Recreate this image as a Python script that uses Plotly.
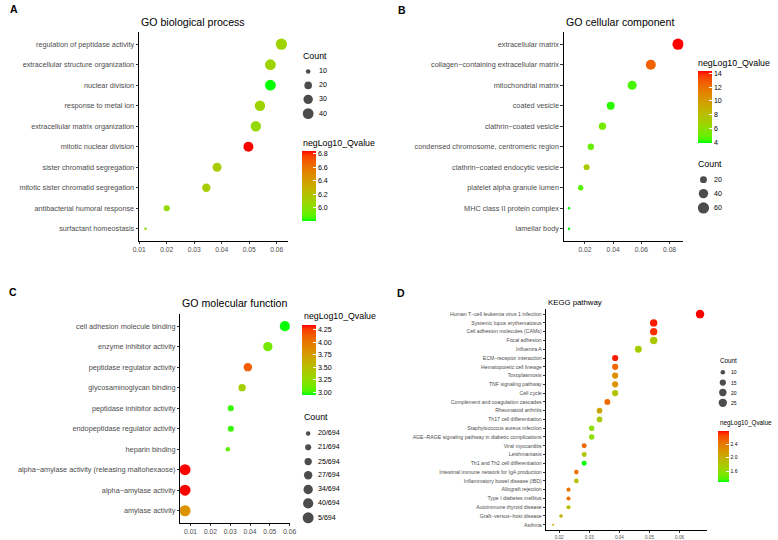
import numpy as np
import plotly.graph_objects as go

W, H = 778, 540
FONT = "Liberation Sans"

# ---------------- data ----------------
# A  GO biological process (top to bottom)
bp_terms = ["regulation of peptidase activity", "extracellular structure organization",
            "nuclear division", "response to metal ion", "extracellular matrix organization",
            "mitotic nuclear division", "sister chromatid segregation",
            "mitotic sister chromatid segregation", "antibacterial humoral response",
            "surfactant homeostasis"]
bp_ratio = [0.0617, 0.0577, 0.0577, 0.0539, 0.0524, 0.0497, 0.0383, 0.0344, 0.0200, 0.0123]
bp_count = [43, 40, 40, 37, 36, 34, 27, 24, 14, 8]
bp_q = [6.08, 6.08, 5.80, 6.08, 6.05, 6.84, 6.12, 6.12, 6.05, 6.05]

# B  GO cellular component
cc_terms = ["extracellular matrix", "collagen\u2212containing extracellular matrix",
            "mitochondrial matrix", "coated vesicle", "clathrin\u2212coated vesicle",
            "condensed chromosome, centromeric region", "clathrin\u2212coated endocytic vesicle",
            "platelet alpha granule lumen", "MHC class II protein complex", "lamellar body"]
cc_ratio = [0.0860, 0.0667, 0.0535, 0.0383, 0.0324, 0.0242, 0.0212, 0.0170, 0.0087, 0.0087]
cc_count = [60, 46, 37, 27, 22, 17, 15, 12, 6, 6]
cc_q = [14.4, 12.6, 4.4, 4.2, 5.3, 5.0, 7.2, 4.6, 3.9, 3.9]

# C  GO molecular function (Count is a text column -> ordinal sizes)
mf_terms = ["cell adhesion molecule binding", "enzyme inhibitor activity",
            "peptidase regulator activity", "glycosaminoglycan binding",
            "peptidase inhibitor activity", "endopeptidase regulator activity",
            "heparin binding", "alpha\u2212amylase activity (releasing maltohexaose)",
            "alpha\u2212amylase activity", "amylase activity"]
mf_ratio = [0.0576, 0.0490, 0.0389, 0.0360, 0.0303, 0.0303, 0.0288, 0.0072, 0.0072, 0.0072]
mf_count = ["40/694", "34/694", "27/694", "25/694", "21/694", "21/694", "20/694",
            "5/694", "5/694", "5/694"]
mf_q = [2.93, 3.12, 4.12, 3.35, 2.98, 2.98, 3.05, 4.34, 4.34, 3.80]

# D  KEGG pathway
kegg_terms = ["Human T\u2212cell leukemia virus 1 infection", "Systemic lupus erythematosus",
              "Cell adhesion molecules (CAMs)", "Focal adhesion", "Influenza A",
              "ECM\u2212receptor interaction", "Hematopoietic cell lineage", "Toxoplasmosis",
              "TNF signaling pathway", "Cell cycle", "Complement and coagulation cascades",
              "Rheumatoid arthritis", "Th17 cell differentiation",
              "Staphylococcus aureus infection",
              "AGE\u2212RAGE signaling pathway in diabetic complications", "Viral myocarditis",
              "Leishmaniasis", "Th1 and Th2 cell differentiation",
              "Intestinal immune network for IgA production",
              "Inflammatory bowel disease (IBD)", "Allograft rejection",
              "Type I diabetes mellitus", "Autoimmune thyroid disease",
              "Graft\u2212versus\u2212host disease", "Asthma"]
kegg_ratio = [0.0668, 0.0514, 0.0514, 0.0514, 0.0463, 0.0386, 0.0386, 0.0386, 0.0386, 0.0386,
              0.0360, 0.0334, 0.0334, 0.0308, 0.0308, 0.0283, 0.0283, 0.0283, 0.0257, 0.0257,
              0.0231, 0.0231, 0.0231, 0.0206, 0.0180]
kegg_count = [26, 20, 20, 20, 18, 15, 15, 15, 15, 15, 14, 13, 13, 12, 12, 11, 11, 11, 10, 10,
              9, 9, 9, 8, 7]
kegg_q = [2.79, 2.75, 2.72, 1.80, 1.75, 2.75, 2.50, 2.25, 2.22, 1.85, 2.50, 2.10, 1.80, 1.60,
          1.60, 2.50, 1.85, 1.30, 2.45, 1.85, 2.45, 2.45, 1.90, 2.00, 2.05]


# ---------------- green -> red gradient interpolated in Lab (like ggplot) ----------------
M = np.array([[0.4124564, 0.3575761, 0.1804375],
              [0.2126729, 0.7151522, 0.0721750],
              [0.0193339, 0.1191920, 0.9503041]])
WHITE = np.array([0.95047, 1.0, 1.08883])


def to_lab(rgb):
    c = np.array(rgb) / 255
    lin = np.where(c <= 0.04045, c / 12.92, ((c + 0.055) / 1.055) ** 2.4)
    t = (M @ lin) / WHITE
    f = np.where(t > (6 / 29) ** 3, np.cbrt(t), t / (3 * (6 / 29) ** 2) + 4 / 29)
    return np.array([116 * f[1] - 16, 500 * (f[0] - f[1]), 200 * (f[1] - f[2])])


def from_lab(lab):
    fy = (lab[0] + 16) / 116
    f = np.array([fy + lab[1] / 500, fy, fy - lab[2] / 200])
    t = np.where(f > 6 / 29, f ** 3, 3 * (6 / 29) ** 2 * (f - 4 / 29))
    lin = np.clip(np.linalg.solve(M, t * WHITE), 0, 1)
    c = np.where(lin <= 0.0031308, 12.92 * lin, 1.055 * lin ** (1 / 2.4) - 0.055)
    r, g, b = (int(round(v * 255)) for v in np.clip(c, 0, 1))
    return f"rgb({r},{g},{b})"


lo, hi = to_lab((0, 255, 0)), to_lab((255, 0, 0))
gradient = [[s, from_lab(lo + (hi - lo) * s)] for s in np.linspace(0, 1, 21)]


def px(x):
    return x / W


def py(y):
    return 1 - y / H


def size_of(values, ref, dmin, dmax):
    # ggplot area scale: diameter grows with sqrt of rescaled value
    r = np.array(ref, dtype=float)
    v = np.array(values, dtype=float)
    return list(dmin + (dmax - dmin) * np.sqrt((v - r.min()) / (r.max() - r.min())))


mf_levels = sorted(set(mf_count))
mf_level_d = np.sqrt(np.linspace(4.5 ** 2, 11 ** 2, len(mf_levels)))
mf_size = [mf_level_d[mf_levels.index(c)] for c in mf_count]

panels = [
    dict(terms=bp_terms, x=bp_ratio, q=bp_q, size=size_of(bp_count, bp_count, 2.5, 11.2),
         dom=((135, 287), (32, 242)), title="GO biological process", tfs=10.6, afs=7.3,
         title_y=21.7, letter="A", letter_xy=(2, 9), dtick=0.01,
         cbar=dict(x=300.7, y=151.7, w=14, h=70, tick=[6.0, 6.2, 6.4, 6.6, 6.8], fmt=".1f",
                   title_xy=(300, 144)),
         leg=dict(title_xy=(300, 56), kx=307.3, lx=316, ky=[71.7, 85.7, 99.7, 114],
                  vals=[10, 20, 30, 40], d=size_of([10, 20, 30, 40], bp_count, 2.5, 11.2)),
         lfs=8.8, lts=7.1),
    dict(terms=cc_terms, x=cc_ratio, q=cc_q, size=size_of(cc_count, cc_count, 2.5, 11.2),
         dom=((567, 689), (32, 242)), title="GO cellular component", tfs=10.6, afs=7.3,
         title_y=21.7, letter="B", letter_xy=(397, 10), dtick=0.02,
         cbar=dict(x=703.3, y=71, w=14, h=71.7, tick=[4, 6, 8, 10, 12, 14], fmt="d",
                   title_xy=(702, 63.3)),
         leg=dict(title_xy=(702, 164.3), kx=709.3, lx=718.5, ky=[180.3, 194.3, 208.7],
                  vals=[20, 40, 60], d=size_of([20, 40, 60], cc_count, 2.5, 11.2)),
         lfs=8.8, lts=7.1),
    dict(terms=mf_terms, x=mf_ratio, q=mf_q, size=mf_size,
         dom=((177, 288.7), (315, 525)), title="GO molecular function", tfs=10.6, afs=7.3,
         title_y=304.3, letter="C", letter_xy=(1, 293), dtick=0.01,
         cbar=dict(x=301, y=326.7, w=14, h=70.3, tick=[3.0, 3.25, 3.5, 3.75, 4.0, 4.25],
                   fmt=".2f", title_xy=(301, 317.3)),
         leg=dict(title_xy=(301, 419), kx=307.3, lx=315,
                  ky=[435, 449, 463.3, 477, 491.3, 505.3, 519.7],
                  vals=mf_levels, d=list(mf_level_d)),
         lfs=8.8, lts=7.1),
    dict(terms=kegg_terms, x=kegg_ratio, q=kegg_q, size=size_of(kegg_count, kegg_count, 2, 8.5),
         dom=((549, 713.3), (310, 532)), title="KEGG pathway", tfs=7.8, afs=5.2,
         title_y=303.3, letter="D", letter_xy=(396, 294), dtick=0.01,
         cbar=dict(x=723.7, y=432.3, w=10.6, h=51, tick=[1.6, 2.0, 2.4], fmt=".1f",
                   title_xy=(724, 424.7)),
         leg=dict(title_xy=(724, 362), kx=729, lx=735, ky=[373.7, 384, 394, 404.3],
                  vals=[10, 15, 20, 25], d=size_of([10, 15, 20, 25], kegg_count, 2, 8.5)),
         lfs=6.3, lts=5.0),
]

fig = go.Figure()
annotations = []


def ann(text, x, y, size, color="black", xanchor="left"):
    annotations.append(dict(text=text, x=px(x), y=py(y), xref="paper", yref="paper",
                            xanchor=xanchor, yanchor="middle", showarrow=False,
                            font=dict(family=FONT, size=size, color=color)))


for i, p in enumerate(panels, start=1):
    sfx = "" if i == 1 else str(i)
    fig.add_trace(go.Scatter(
        x=p["x"], y=p["terms"], mode="markers", xaxis="x" + sfx, yaxis="y" + sfx,
        marker=dict(size=p["size"], color=p["q"], coloraxis="coloraxis" + sfx,
                    line=dict(width=0), opacity=1),
        showlegend=False, hoverinfo="skip"))

    xs = np.array(p["x"])
    rng = xs.max() - xs.min()
    (x0, x1), (y0, y1) = p["dom"]
    n = len(p["terms"])
    axis_common = dict(showline=True, linecolor="black", linewidth=0.8, ticks="outside",
                       ticklen=2.2, tickwidth=0.7, tickcolor="#333333", showgrid=False,
                       zeroline=False)
    fig.layout["xaxis" + sfx] = dict(axis_common, domain=[px(x0), px(x1)],
                                     range=[xs.min() - 0.05 * rng, xs.max() + 0.05 * rng],
                                     anchor="y" + sfx, dtick=p["dtick"],
                                     tickfont=dict(family=FONT, size=p["afs"] - 0.6,
                                                   color="#4D4D4D"))
    fig.layout["yaxis" + sfx] = dict(axis_common, domain=[py(y1), py(y0)], anchor="x" + sfx,
                                     type="category", categoryorder="array",
                                     categoryarray=p["terms"][::-1], range=[-0.6, n - 0.4],
                                     tickfont=dict(family=FONT, size=p["afs"], color="#4D4D4D"))

    cb = p["cbar"]
    fig.layout["coloraxis" + sfx] = dict(
        cmin=min(p["q"]), cmax=max(p["q"]), colorscale=gradient,
        colorbar=dict(x=px(cb["x"]), xanchor="left", y=py(cb["y"]), yanchor="top",
                      len=cb["h"], lenmode="pixels", thickness=cb["w"], thicknessmode="pixels",
                      xpad=0, ypad=0, outlinewidth=0, ticks="inside", ticklen=cb["w"] / 5,
                      tickcolor="white", tickwidth=0.8, tickvals=cb["tick"], tickformat=cb["fmt"],
                      tickfont=dict(family=FONT, size=p["lts"], color="black")))

    # titles and panel letter
    ann(p["title"], x0, p["title_y"], p["tfs"])
    ann("<b>%s</b>" % p["letter"], p["letter_xy"][0], p["letter_xy"][1], 10.5)
    ann("negLog10_Qvalue", cb["title_xy"][0], cb["title_xy"][1], p["lfs"])

    # size legend
    lg = p["leg"]
    ann("Count", lg["title_xy"][0], lg["title_xy"][1], p["lfs"])
    fig.add_trace(go.Scatter(x=[lg["kx"]] * len(lg["ky"]), y=lg["ky"], mode="markers",
                             xaxis="x5", yaxis="y5", showlegend=False, hoverinfo="skip",
                             marker=dict(size=lg["d"], color="black", line=dict(width=0))))
    for v, yy in zip(lg["vals"], lg["ky"]):
        ann(str(v), lg["lx"], yy, p["lts"])

fig.layout["xaxis5"] = dict(domain=[0, 1], range=[0, W], visible=False, anchor="y5")
fig.layout["yaxis5"] = dict(domain=[0, 1], range=[H, 0], visible=False, anchor="x5")

fig.update_layout(width=W, height=H, margin=dict(l=0, r=0, t=0, b=0),
                  plot_bgcolor="rgba(0,0,0,0)", paper_bgcolor="white",
                  font=dict(family=FONT), annotations=annotations, showlegend=False)

# the page body has a default 8px margin; drop it so the figure fills the window
fig.write_html("out.html", config={"displayModeBar": False},
               post_script="document.body.style.margin='0px';")
